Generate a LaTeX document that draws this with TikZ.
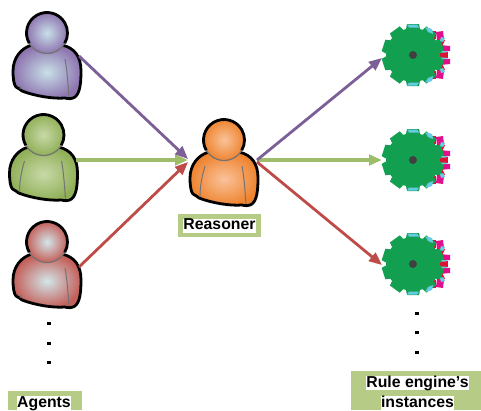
\documentclass[tikz,border=0pt]{standalone}
\usepackage{fontspec}
\setmainfont{Liberation Sans}
\usetikzlibrary{arrows.meta}
\definecolor{cpurple}{HTML}{7B5F96}
\definecolor{cgreen}{HTML}{9FBC6A}
\definecolor{cred}{HTML}{BE4B48}
\definecolor{boxgreen}{HTML}{B5CB86}
\definecolor{geargreen}{HTML}{12A050}
\definecolor{gearcyan}{HTML}{66CCE6}
\definecolor{gearred}{HTML}{E01030}
\definecolor{gearmag}{HTML}{E0108A}
\definecolor{pin}{HTML}{C8E0E8}\definecolor{pout}{HTML}{8E75B0}
\definecolor{gin}{HTML}{C8D9A8}\definecolor{gout}{HTML}{90B058}
\definecolor{rin}{HTML}{D2E6EA}\definecolor{rout}{HTML}{C4605A}
\definecolor{oin}{HTML}{FAC29A}\definecolor{oout}{HTML}{EE8430}
\tikzset{
  conn/.style={line width=2.8pt,-{Triangle[length=13pt,width=10.5pt]}},
  connflat/.style={line width=3.3pt,-{Triangle[length=13pt,width=10.5pt]}},
  labelbox/.style={fill=boxgreen,draw=none,inner sep=0pt,anchor=north west},
  labeltext/.style={fill=white,inner sep=0pt,font=\bfseries\fontsize{15.8}{16}\selectfont,text height=11pt,text depth=3pt},
  dotmark/.style={fill=black,draw=none,minimum width=4pt,minimum height=3pt,inner sep=0pt},
  tooth/.style={fill=geargreen,draw=none},
  outline/.style={draw=black,line width=2.8pt,line join=round},
  crease/.style={draw=black!55,line width=1pt},
}
% [style] x y inner outer
\newcommand{\personat}[5][1]{%
  \begin{scope}[shift={(#2,#3)}]
    \path[outline,inner color=#4,outer color=#5]
      (-15,12) .. controls (-26,15) and (-34,25) .. (-34,38)
      .. controls (-34,46) and (-33,52) .. (-31,54)
      .. controls (-28,56) and (-27,56) .. (-25,58)
      .. controls (-12,63) and (6,66) .. (18,65)
      .. controls (21,66) and (25,66) .. (28,64)
      .. controls (33,60) and (34,50) .. (34,38)
      .. controls (34,24) and (28,15) .. (15,12) -- cycle;
    \draw[crease] (18,26) .. controls (20,36) and (21,50) .. (22,64);
    \ifnum#1=2 \draw[crease] (-19,26) .. controls (-22,36) and (-24,46) .. (-24,57);\fi
    \ifnum#1=1 \draw[crease] (-27,56) -- (-26,53);\fi
    \fill[inner color=#4,outer color=#5] (0,0) circle[radius=20.5];
    \draw[crease,line width=1.2pt] (30:20.5) arc[start angle=30,end angle=150,radius=20.5];
    \draw[outline] (150:20.5) arc[start angle=150,end angle=390,radius=20.5];
  \end{scope}}
\newcommand{\gearat}[2]{%
  \begin{scope}[shift={(#1,#2)}]
    \fill[gearmag] (23,-23) -- (30,-24) -- (31,-16) -- (24,-15) -- cycle;
    \fill[gearmag] (23,23) -- (30,24) -- (31,16) -- (24,15) -- cycle;
    \fill[gearmag] (27,-10) -- (37,-9) -- (37,-4) -- (27,-3) -- cycle;
    \fill[gearmag] (27,10) -- (37,9) -- (37,4) -- (27,3) -- cycle;
    \fill[gearred] (24,-16) -- (32,-15) -- (29,-8) -- (24,-8) -- cycle;
    \fill[gearred] (24,16) -- (32,15) -- (29,8) -- (24,8) -- cycle;
    \fill[gearred] (25,-3) -- (35,-3) -- (35,3) -- (25,3) -- cycle;
    \fill[gearred] (13,-24) -- (23,-24) -- (23,-16) -- (13,-16) -- cycle;
    \fill[gearred] (13,24) -- (23,24) -- (23,16) -- (13,16) -- cycle;
    \foreach \a in {0,36,...,324}
      \fill[tooth,rotate=\a] (-7,-26) -- (-6,-31) -- (6,-31) -- (7,-26) -- cycle;
    \fill[geargreen] (0,0) circle[radius=27];
    \fill[gearcyan] (-6,-30.5) -- (4,-30.5) -- (6,-27.5) -- (-4,-27.5) -- cycle;
    \fill[gearcyan] (-6,30.5) -- (4,30.5) -- (6,27.5) -- (-4,27.5) -- cycle;
    \fill[gearcyan] (12,-28) -- (19,-26) -- (20,-21) -- (15,-23) -- cycle;
    \fill[gearcyan] (12,28) -- (19,26) -- (20,21) -- (15,23) -- cycle;
    \fill[gearcyan] (28,-18) -- (32,-17) -- (30,-13) -- (27,-14) -- cycle;
    \fill[gearcyan] (28,18) -- (32,17) -- (30,13) -- (27,14) -- cycle;
    \fill[gearcyan] (29,-4) -- (34,-4) -- (33,-2.5) -- (28,-2.5) -- cycle;
    \fill[gearcyan] (29,4) -- (34,4) -- (33,2.5) -- (28,2.5) -- cycle;
    \fill[black!75] (0,0) circle[radius=4];
  \end{scope}}
\begin{document}
\begin{tikzpicture}[x=1pt,y=-1pt]
\useasboundingbox (0,0) rectangle (481,410);
\personat{47}{33}{pin}{pout}
\personat[2]{43.5}{135}{gin}{gout}
\personat{47}{242}{rin}{rout}
\personat[2]{224}{140}{oin}{oout}
\gearat{413}{55}
\gearat{413}{160}
\gearat{413}{264}
\coordinate (a1) at (79,56);
\coordinate (a2) at (76,160);
\coordinate (a3) at (79,267);
\coordinate (ri1) at (188,159);
\coordinate (ri2) at (188,160);
\coordinate (ri3) at (188,162);
\coordinate (ro1) at (257,160);
\coordinate (ro2) at (257,160);
\coordinate (ro3) at (257,162);
\coordinate (g1) at (382,58);
\coordinate (g2) at (382,160);
\coordinate (g3) at (382,265);
\draw[connflat,cgreen] (a2) -- (ri2);
\draw[conn,cpurple] (a1) -- (ri1);
\draw[conn,cred] (a3) -- (ri3);
\draw[connflat,cgreen] (ro2) -- (g2);
\draw[conn,cpurple] (ro1) -- (g1);
\draw[conn,cred] (ro3) -- (g3);
\node[dotmark] (d1) at (49,323) {};
\node[dotmark] (d2) at (49,343) {};
\node[dotmark] (d3) at (49,362) {};
\node[dotmark] (d4) at (417,313) {};
\node[dotmark] (d5) at (417,332) {};
\node[dotmark] (d6) at (417,352) {};
\node[labelbox,minimum width=83pt,minimum height=23pt] (b1) at (178,214) {};
\node[labelbox,minimum width=74pt,minimum height=19pt] (b2) at (8,391) {};
\node[labelbox,minimum width=130pt,minimum height=39pt] (b3) at (351,371) {};
\node[labeltext] (t1) at (219.5,225.5) {Reasoner};
\node[labeltext] (t2) at (44,403) {Agents};
\node[labeltext] (t3) at (417.5,383) {Rule engine’s};
\node[labeltext] (t4) at (417.5,403) {instances};
\end{tikzpicture}
\end{document}
